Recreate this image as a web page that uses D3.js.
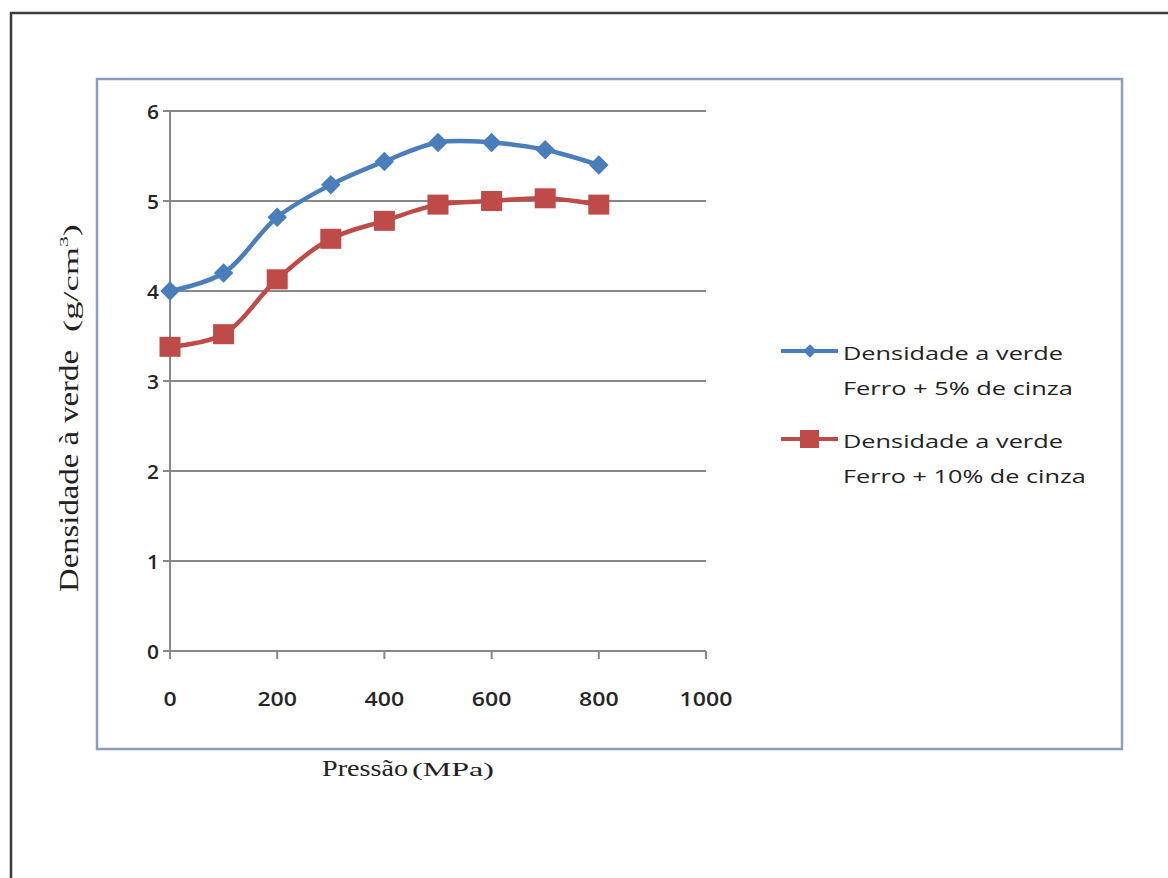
<!DOCTYPE html>
<html><head><meta charset="utf-8">
<script src="https://cdn.jsdelivr.net/npm/d3@7"></script>
<style>html,body{margin:0;padding:0;background:#fff;}svg{display:block;}</style>
</head><body>
<svg id="c" width="1168" height="878"></svg>
<script>
const pressure = [0,100,200,300,400,500,600,700,800];
const dens5 = [4.0,4.2,4.82,5.18,5.44,5.65,5.65,5.57,5.40];
const dens10 = [3.38,3.52,4.13,4.58,4.78,4.96,5.0,5.03,4.96];
const xTicks = [0,200,400,600,800,1000];
const yTicks = [0,1,2,3,4,5,6];
const seriesNames = [["Densidade a verde","Ferro + 5% de cinza"],["Densidade a verde","Ferro + 10% de cinza"]];
const seriesColors = ["#4A7EBB","#BE4B48"];

const svg = d3.select("#c");

// place a text at (px,py) and stretch it along its direction to width w
function fitText(parent, str, px, py, w, attrs, anchor, rot){
  const t = parent.append("text").attr("x",0).attr("y",0).text(str);
  Object.entries(attrs).forEach(([k,v])=>t.attr(k,v));
  const L = t.node().getComputedTextLength();
  const s = L>0 ? w/L : 1;
  const dx = anchor==="middle" ? -w/2 : anchor==="end" ? -w : 0;
  if(rot){
    t.attr("transform",`translate(${px},${py}) rotate(${rot}) translate(${dx},0) scale(${s},1)`);
  } else {
    t.attr("transform",`translate(${px+dx},${py}) scale(${s},1)`);
  }
  return t;
}

// outer frame
svg.append("path").attr("d","M11,878 V13 H1168").attr("fill","none").attr("stroke","#3c3c3c").attr("stroke-width",2.5);
// chart area border
svg.append("rect").attr("x",97).attr("y",79).attr("width",1025).attr("height",670)
  .attr("fill","#fff").attr("stroke","#8C9DBF").attr("stroke-width",2.5);

const x = d3.scaleLinear().domain([0,1000]).range([170,706]);
const y = d3.scaleLinear().domain([0,6]).range([651,111]);

const g = svg.append("g");
g.selectAll("line.grid").data(yTicks).join("line")
  .attr("x1",x(0)-7).attr("x2",x(1000)).attr("y1",d=>y(d)).attr("y2",d=>y(d))
  .attr("stroke","#888").attr("stroke-width",2);
g.append("line").attr("x1",x(0)).attr("x2",x(0)).attr("y1",y(6)).attr("y2",y(0)).attr("stroke","#888").attr("stroke-width",2);
g.selectAll("line.xt").data(xTicks).join("line")
  .attr("x1",d=>x(d)).attr("x2",d=>x(d)).attr("y1",y(0)).attr("y2",y(0)+8)
  .attr("stroke","#888").attr("stroke-width",2);

const tickFont = "'Open Sans', sans-serif";
const tickAttrs = {"font-family":tickFont,"font-size":19,"font-weight":600,"fill":"#262626"};
yTicks.forEach(d=>fitText(g, String(d), x(0)-11, y(d)+8, 12, tickAttrs, "end"));
xTicks.forEach(d=>fitText(g, String(d), x(d), 706, String(d).length*13.2, tickAttrs, "middle"));

// series
const line = d3.line().x((d,i)=>x(pressure[i])).y(d=>y(d)).curve(d3.curveCatmullRom.alpha(0.5));
[dens5,dens10].forEach((s,k)=>{
  svg.append("path").datum(s).attr("d",line).attr("fill","none")
    .attr("stroke",seriesColors[k]).attr("stroke-width",4.5);
});
svg.selectAll("path.m5").data(dens5).join("path")
  .attr("d",d3.symbol().type(d3.symbolSquare).size(190))
  .attr("transform",(d,i)=>`translate(${x(pressure[i])},${y(d)}) rotate(45)`)
  .attr("fill",seriesColors[0]);
svg.selectAll("rect.m10").data(dens10).join("rect")
  .attr("x",(d,i)=>x(pressure[i])-10.5).attr("y",d=>y(d)-10).attr("width",21).attr("height",20)
  .attr("fill",seriesColors[1]);

// legend
const legY = [351,439];
const legW = [[220,230],[220,243]];
const legAttrs = {"font-family":tickFont,"font-size":19,"fill":"#222"};
seriesNames.forEach((nm,k)=>{
  const ly = legY[k];
  svg.append("line").attr("x1",781).attr("x2",838).attr("y1",ly).attr("y2",ly)
    .attr("stroke",seriesColors[k]).attr("stroke-width",4);
  if(k===0){
    svg.append("path").attr("d",d3.symbol().type(d3.symbolSquare).size(90)())
      .attr("transform",`translate(810,${ly}) rotate(45)`).attr("fill",seriesColors[0]);
  } else {
    svg.append("rect").attr("x",800).attr("y",ly-9).attr("width",19).attr("height",18).attr("fill",seriesColors[1]);
  }
  nm.forEach((t,j)=>fitText(svg, t, 843, ly+9+j*35, legW[k][j], legAttrs, "start"));
});

// axis titles
const serif = "'Liberation Serif', 'Times New Roman', serif";
fitText(svg, "Pressão", 322, 776, 86, {"font-family":serif,"font-size":23,"fill":"#222"}, "start");
fitText(svg, "(MPa)", 412, 776, 82, {"font-family":serif,"font-size":18,"fill":"#222"}, "start");

fitText(svg, "Densidade à verde", 78, 592, 242, {"font-family":serif,"font-size":27,"fill":"#222"}, "start", -90);
const yt = svg.append("text").attr("x",0).attr("y",0).attr("font-family",serif).attr("fill","#222");
yt.append("tspan").attr("font-size",22).text("(g/cm");
yt.append("tspan").attr("font-size",13).attr("dy",-10).text("3");
yt.append("tspan").attr("font-size",22).attr("dy",10).text(")");
const ytL = yt.node().getComputedTextLength();
yt.attr("transform",`translate(78,332) rotate(-90) scale(${108/ytL},1)`);
</script>
</body></html>
